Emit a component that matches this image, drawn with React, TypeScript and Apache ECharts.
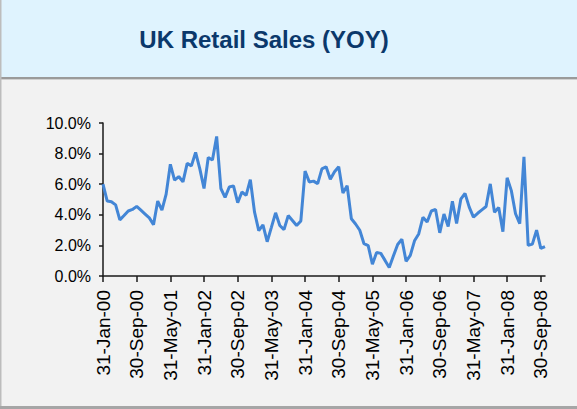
import React, { useEffect, useRef } from "react";
import * as echarts from "echarts";

const TITLE = "UK Retail Sales (YOY)";
const MONTHS = ["Jan", "Feb", "Mar", "Apr", "May", "Jun", "Jul", "Aug", "Sep", "Oct", "Nov", "Dec"];
const START_YEAR = 2000;

// Year-on-year growth, %, monthly from Jan-2000 to Oct-2008
const yoy2000 = [6.0, 4.9, 4.85, 4.65, 3.67, 3.95, 4.25, 4.35, 4.55, 4.3, 4.05, 3.8];
const yoy2001 = [3.35, 4.9, 4.3, 5.35, 7.3, 6.26, 6.5, 6.15, 7.36, 7.2, 8.08, 7.0];
const yoy2002 = [5.72, 7.75, 7.58, 9.12, 5.72, 5.14, 5.82, 5.89, 4.79, 5.49, 5.27, 6.3];
const yoy2003 = [4.17, 2.97, 3.34, 2.24, 3.18, 4.13, 3.3, 3.03, 3.95, 3.63, 3.3, 3.6];
const yoy2004 = [6.86, 6.15, 6.2, 6.04, 7.0, 7.14, 6.33, 6.81, 7.14, 5.42, 5.9, 3.74];
const yoy2005 = [3.4, 2.99, 2.11, 1.98, 0.77, 1.54, 1.48, 1.02, 0.55, 1.32, 2.06, 2.4];
const yoy2006 = [0.96, 1.35, 2.3, 2.75, 3.84, 3.53, 4.25, 4.35, 2.82, 4.05, 3.24, 4.89];
const yoy2007 = [3.43, 5.02, 5.4, 4.5, 3.85, 4.1, 4.32, 4.54, 6.02, 4.16, 4.47, 2.9];
const yoy2008 = [6.42, 5.58, 4.07, 3.42, 7.79, 2.0, 2.08, 3.0, 1.8, 1.92];

const values = [...yoy2000, ...yoy2001, ...yoy2002, ...yoy2003, ...yoy2004, ...yoy2005, ...yoy2006, ...yoy2007, ...yoy2008];

const yTicks = [0, 2, 4, 6, 8, 10];

function monthEndLabel(i: number): string {
  const year = START_YEAR + Math.floor(i / 12);
  const month = i % 12;
  const day = new Date(Date.UTC(year, month + 1, 0)).getUTCDate();
  return `${day}-${MONTHS[month]}-${String(year % 100).padStart(2, "0")}`;
}

const categories = values.map((_, i) => monthEndLabel(i));

export default function App() {
  const ref = useRef<HTMLDivElement>(null);
  useEffect(() => {
    if (!ref.current) return;
    const chart = echarts.init(ref.current, null, { renderer: "svg" });
    const W = 577;
    const H = 409;
    chart.setOption({
      animation: false,
      backgroundColor: "#F2F2F2",
      textStyle: { fontFamily: "Liberation Sans, Arial, sans-serif" },
      graphic: [
        { type: "rect", shape: { x: 0, y: 0, width: W, height: 77 }, style: { fill: "#DFF3FE" }, z: 0 },
        { type: "rect", shape: { x: 0, y: 77, width: W, height: 2 }, style: { fill: "#9A9A9A" }, z: 0 },
        { type: "rect", shape: { x: 0, y: 79, width: W, height: 1 }, style: { fill: "#D0D0D0" }, z: 0 },
        { type: "rect", shape: { x: 0, y: 0, width: 1.5, height: H }, style: { fill: "#BDBDBD" }, z: 0 },
        { type: "rect", shape: { x: 0, y: 406, width: W, height: 3 }, style: { fill: "#A6A6A6" }, z: 0 },
        {
          type: "text",
          x: 264,
          y: 39,
          style: {
            text: TITLE,
            fill: "#0B386B",
            font: "bold 24px 'Liberation Sans', Arial, sans-serif",
            textAlign: "center",
            textVerticalAlign: "middle",
          },
          z: 5,
        },
      ],
      grid: { left: 103, right: 32, top: 123, bottom: 133, containLabel: false },
      xAxis: {
        type: "category",
        data: categories,
        boundaryGap: false,
        axisLine: { show: true, lineStyle: { color: "#1A1A1A", width: 1.5 } },
        axisTick: { show: true, interval: 7, length: 6, lineStyle: { color: "#1A1A1A", width: 1.5 } },
        axisLabel: {
          interval: 7,
          rotate: 90,
          margin: 14,
          color: "#000",
          fontSize: 19,
          fontFamily: "Liberation Sans, Arial, sans-serif",
        },
        splitLine: { show: false },
      },
      yAxis: {
        type: "value",
        min: yTicks[0],
        max: yTicks[yTicks.length - 1],
        interval: 2,
        axisLine: { show: true, lineStyle: { color: "#1A1A1A", width: 1.5 } },
        axisTick: { show: true, length: 4, lineStyle: { color: "#1A1A1A", width: 1.5 } },
        axisLabel: {
          margin: 12,
          color: "#000",
          fontSize: 16,
          fontFamily: "Liberation Sans, Arial, sans-serif",
          formatter: (v: number) => `${v.toFixed(1)}%`,
        },
        splitLine: { show: false },
      },
      series: [
        {
          type: "line",
          data: values,
          showSymbol: false,
          symbol: "none",
          lineStyle: { color: "#4386D6", width: 3 },
          itemStyle: { color: "#4386D6" },
        },
      ],
    });
    return () => chart.dispose();
  }, []);
  return (
    <div
      ref={ref}
      style={{ position: "fixed", left: 0, top: 0, width: 577, height: 409 }}
    />
  );
}
